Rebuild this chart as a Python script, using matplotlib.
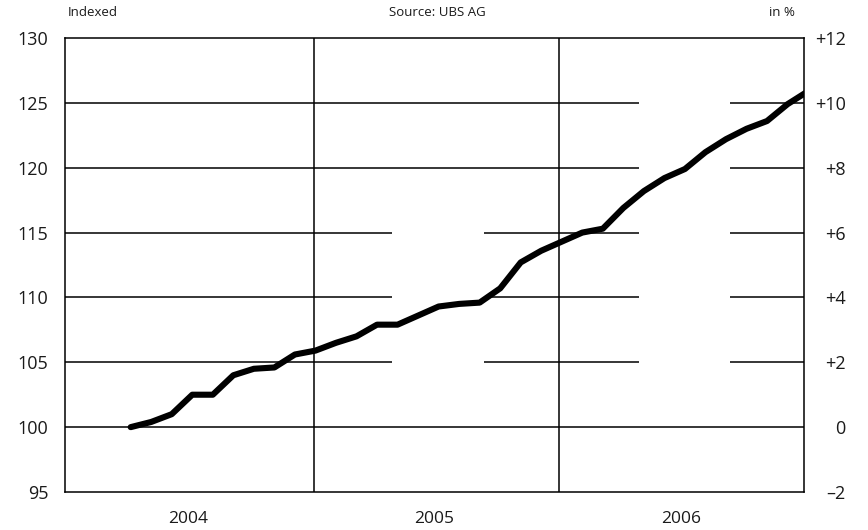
import matplotlib
matplotlib.use("Agg")
import matplotlib.pyplot as plt
import numpy as np

plt.rcParams['font.family'] = ['Open Sans', 'DejaVu Sans']

# ---- data ----
# monthly points, x as months since Jan 2004 (fractional)
months = [3.2, 4.2, 5.2, 6.2, 7.2, 8.2, 9.2, 10.2, 11.2, 12.2, 13.2, 14.2,
          15.2, 16.2, 17.2, 18.2, 19.2, 20.2, 21.2, 22.2, 23.2, 24.2, 25.2,
          26.2, 27.2, 28.2, 29.2, 30.2, 31.2, 32.2, 33.2, 34.2, 35.2, 36.2]
index_values = [100.0, 100.4, 101.0, 102.5, 102.5, 104.0, 104.5, 104.6, 105.6,
                105.9, 106.5, 107.0, 107.9, 107.9, 108.6, 109.3, 109.5, 109.6,
                110.7, 112.7, 113.6, 114.3, 115.0, 115.3, 116.9, 118.2, 119.2,
                119.9, 121.2, 122.2, 123.0, 123.6, 124.9, 125.9]
years = ["2004", "2005", "2006"]
left_ticks = [95, 100, 105, 110, 115, 120, 125, 130]
right_ticks = [-2, 0, 2, 4, 6, 8, 10, 12]
right_labels = ["\u20132", "0", "+2", "+4", "+6", "+8", "+10", "+12"]

x = 2004 + np.array(months) / 12.0

fig = plt.figure(figsize=(8.68, 5.30), dpi=100)
ax = fig.add_axes([65/868, 1-492/530, (804-65)/868, (492-38)/530])
ax.set_xlim(2004, 2007)
ax.set_ylim(95, 130)

txtc = "#1a1a1a"
# horizontal gridlines (with gaps as in the reference)
gl = dict(color="black", lw=1.1, zorder=1)
for v in [100]:
    ax.hlines(v, 2004, 2007, **gl)
for v in [105, 110, 115]:
    ax.hlines(v, 2004, 2005.327, **gl)
    ax.hlines(v, 2005.70, 2006.33, **gl)
    ax.hlines(v, 2006.70, 2007, **gl)
for v in [120, 125]:
    ax.hlines(v, 2004, 2006.33, **gl)
    ax.hlines(v, 2006.70, 2007, **gl)
# year separators
for yb in [2005.01, 2006.005]:
    ax.axvline(yb, color="black", lw=1.1, zorder=1)

ax.plot(x, index_values, color="black", lw=4.4, solid_capstyle="round",
        solid_joinstyle="round", zorder=3)

for s in ax.spines.values():
    s.set_linewidth(1.1)
    s.set_color("black")

ax.set_yticks(left_ticks)
ax.set_yticklabels([str(t) for t in left_ticks])
ax.tick_params(axis="y", length=0, pad=12, labelsize=13, labelcolor=txtc)

ax.set_xticks([2004, 2005, 2006, 2007])
ax.set_xticklabels([])
ax.set_xticks([2004.5, 2005.5, 2006.5], minor=True)
ax.set_xticklabels(years, minor=True)
ax.tick_params(axis="x", which="both", length=0, pad=14, labelsize=12.5,
               labelcolor=txtc)

ax2 = ax.twinx()
ax2.set_ylim(-2, 12)
ax2.set_yticks(right_ticks)
ax2.set_yticklabels(right_labels)
for lab in ax2.get_yticklabels():
    lab.set_horizontalalignment("right")
ax2.tick_params(axis="y", length=0, pad=30, labelsize=13, labelcolor=txtc)
for s in ax2.spines.values():
    s.set_visible(False)

fig.text(68/868, 1-12/530, "Indexed", fontsize=9.5, color=txtc, ha="left", va="center")
fig.text(437/868, 1-12/530, "Source: UBS AG", fontsize=9.5, color=txtc, ha="center", va="center")
fig.text(795/868, 1-12/530, "in %", fontsize=9.5, color=txtc, ha="right", va="center")

fig.savefig("out.png", dpi=100)
